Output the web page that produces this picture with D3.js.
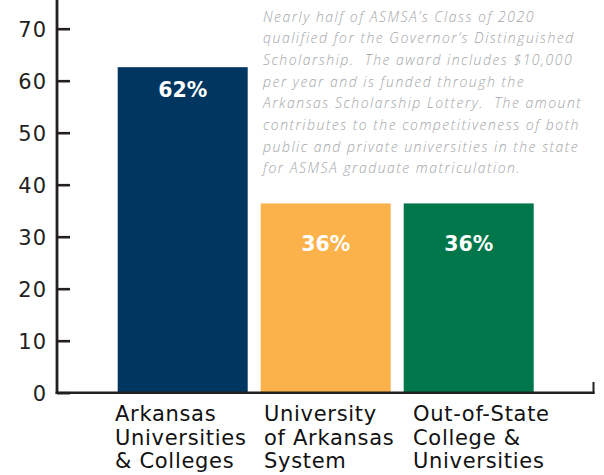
<!DOCTYPE html>
<html>
<head>
<meta charset="utf-8">
<script src="https://cdn.jsdelivr.net/npm/d3@7"></script>
<style>
  html, body { margin: 0; padding: 0; background: #fff; }
  svg { display: block; }
</style>
</head>
<body>
<svg id="chart" width="604" height="475"></svg>
<script>
// ---- data ----
const categories = [
  ["Arkansas", "Universities", "& Colleges"],
  ["University", "of Arkansas", "System"],
  ["Out-of-State", "College &", "Universities"]
];
const categoryKeys = ["Arkansas Universities & Colleges", "University of Arkansas System", "Out-of-State College & Universities"];
const values = [62.6, 36.4, 36.4];
const valueLabels = ["62%", "36%", "36%"];
const barColors = ["#00365f", "#fcb24a", "#00764b"];
const yTicks = [0, 10, 20, 30, 40, 50, 60, 70];
const noteLines = [
  "Nearly half of ASMSA\u2019s Class of 2020",
  "qualified for the Governor\u2019s Distinguished",
  "Scholarship.  The award includes $10,000",
  "per year and is funded through the",
  "Arkansas Scholarship Lottery.  The amount",
  "contributes to the competitiveness of both",
  "public and private universities in the state",
  "for ASMSA graduate matriculation."
];

// ---- drawing ----
const svg = d3.select("#chart");
const ink = "#231f20";

const y = d3.scaleLinear().domain([0, 70]).range([392.7, 28.7]);
const x = d3.scaleBand().domain(categoryKeys).range([117.7, 533.7]).paddingInner(0.0909).paddingOuter(0);
const labelX = d3.scalePoint().domain(categoryKeys).range([115, 413]);

// bars
svg.append("g").selectAll("rect")
  .data(values)
  .join("rect")
  .attr("x", (d, i) => x(categoryKeys[i]))
  .attr("y", d => y(d))
  .attr("width", x.bandwidth())
  .attr("height", d => y(0) - y(d))
  .attr("fill", (d, i) => barColors[i]);

// value labels inside bars
const labelDy = [29.4, 47.7, 47.7];
svg.append("g").selectAll("text")
  .data(values)
  .join("text")
  .attr("x", (d, i) => x(categoryKeys[i]) + x.bandwidth() / 2)
  .attr("y", (d, i) => y(d) + labelDy[i])
  .attr("text-anchor", "middle")
  .attr("fill", "#fff")
  .attr("font-family", "DejaVu Sans")
  .attr("font-weight", "bold")
  .attr("font-size", "20.5px")
  .text((d, i) => valueLabels[i]);

// y axis
const yAxis = d3.axisLeft(y)
  .tickValues(yTicks)
  .tickSizeInner(-13)
  .tickSizeOuter(0)
  .tickPadding(10)
  .tickFormat(d3.format("d"));
const gy = svg.append("g").attr("transform", "translate(57,0)").call(yAxis);
gy.select(".domain").remove();
gy.selectAll(".tick line").attr("stroke", ink).attr("stroke-width", 2.6);
gy.selectAll(".tick text")
  .attr("fill", ink)
  .attr("font-family", "DejaVu Sans")
  .attr("font-size", "21px")
  .attr("letter-spacing", "1px")
  .attr("dy", "0.36em");

// axis lines
svg.append("line").attr("x1", 57).attr("x2", 57).attr("y1", 0).attr("y2", y(0) + 1.3)
  .attr("stroke", ink).attr("stroke-width", 2.8);
svg.append("line").attr("x1", 55.6).attr("x2", 594.5).attr("y1", y(0)).attr("y2", y(0))
  .attr("stroke", ink).attr("stroke-width", 2.6);
svg.append("line").attr("x1", 593.5).attr("x2", 593.5).attr("y1", 382).attr("y2", y(0) + 1.3)
  .attr("stroke", ink).attr("stroke-width", 2);

// category labels
const catG = svg.append("g");
categories.forEach((lines, i) => {
  const t = catG.append("text")
    .attr("x", labelX(categoryKeys[i]))
    .attr("y", 420.7)
    .attr("fill", "#111")
    .attr("font-family", "DejaVu Sans")
    .attr("font-size", "21px")
    .attr("letter-spacing", "0.7px");
  lines.forEach((ln, j) => {
    t.append("tspan").attr("x", labelX(categoryKeys[i])).attr("dy", j === 0 ? 0 : 23.8).text(ln);
  });
});

// annotation
const note = svg.append("text")
  .attr("fill", "#a3a5a8")
  .attr("font-family", "'Open Sans', 'DejaVu Sans', sans-serif")
  .attr("font-style", "italic")
  .attr("font-weight", 300)
  .attr("font-size", "14px")
  .attr("xml:space", "preserve")
  .style("white-space", "pre");
noteLines.forEach((ln, j) => {
  note.append("tspan").attr("x", 263).attr("y", 21.5 + j * 21.67).text(ln);
});
// fit widest line to target width via letter spacing
const spans = note.selectAll("tspan").nodes();
const longest = spans[5];
const w = longest.getComputedTextLength();
const ls = (317 - w) / noteLines[5].length;
note.attr("letter-spacing", ls + "px");
</script>
</body>
</html>
